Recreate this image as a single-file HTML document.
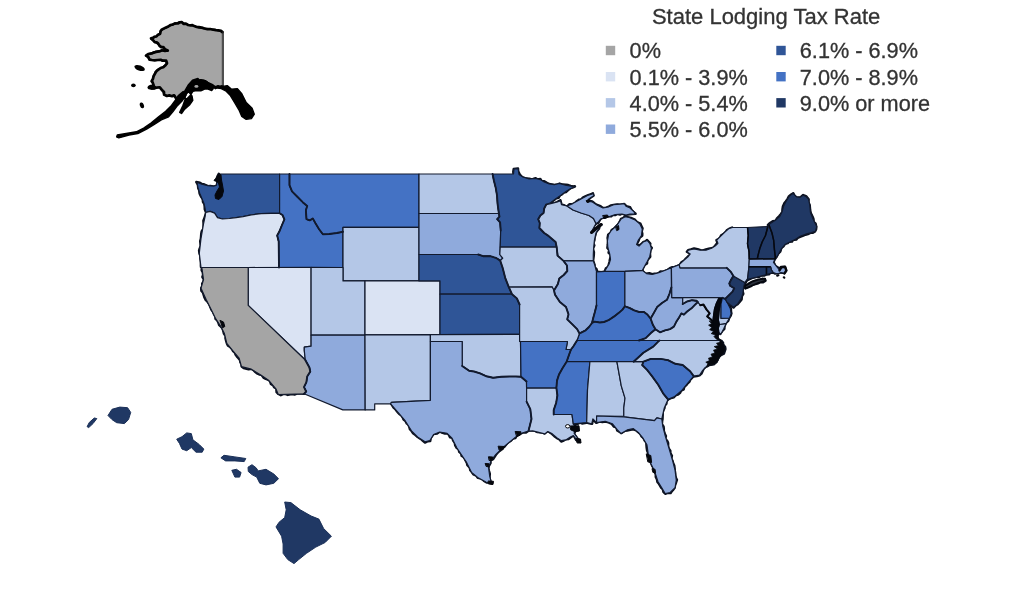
<!DOCTYPE html>
<html lang="en"><head><meta charset="utf-8"><title>State Lodging Tax Rate</title>
<style>
html,body{margin:0;padding:0;background:#fff;}
body{width:1024px;height:611px;overflow:hidden;position:relative;font-family:"Liberation Sans",Arial,sans-serif;}
svg{position:absolute;left:0;top:0;display:block;filter:blur(0.45px);}
.st{stroke:#121a2e;stroke-width:1.2;stroke-linejoin:round;}
.lg{font-family:"Liberation Sans",Arial,sans-serif;font-size:21.7px;fill:#333;stroke:#333;stroke-width:0.3;}
</style></head><body>
<svg width="1024" height="611" viewBox="0 0 1024 611">
<rect width="1024" height="611" fill="#fff"/>

<path fill="none" stroke="#0a0f1c" stroke-width="2.5" stroke-linejoin="round" stroke-linecap="round" d="M218.8,173.8 217.6,176.1 217.0,178.9 217.4,182.1 216.8,185.7 213.9,186.8 210.4,185.9 207.8,186.2 204.5,184.6 201.9,184.1 199.9,182.7 196.3,182.1 197.9,184.5 198.2,187.7 199.3,190.5 199.6,193.5 200.9,196.2 202.8,199.0 203.0,201.9 204.5,204.3 204.7,206.6 204.8,209.4 206.1,212.6 205.1,216.3 204.3,218.4 203.4,220.8 203.6,224.0 203.6,226.3 203.3,228.9 201.8,231.1 201.3,233.4 201.1,236.1 200.9,238.5 200.2,241.2 200.5,243.6 200.8,246.1 199.6,248.7 199.1,250.6 199.5,253.4 200.3,255.6 200.3,257.7 200.8,260.5 201.0,262.5 200.9,265.4 201.0,266.9 201.8,267.8 201.7,270.3 202.8,272.2 203.1,275.0 202.4,277.0 204.0,279.5 203.3,281.9 202.2,283.7 202.4,286.2 201.2,288.2 201.4,290.8 203.0,292.7 203.6,294.7 204.5,297.5 205.6,299.8 207.2,301.3 208.8,303.5 209.7,305.2 210.6,307.6 211.5,309.8 213.1,311.8 214.1,314.2 215.5,316.7 215.5,318.8 217.3,320.4 218.3,322.3 219.2,325.0 220.7,326.3 222.4,328.2 223.3,330.9 223.9,333.5 225.8,336.2 225.5,338.3 226.1,340.6 227.0,343.7 228.0,345.7 230.1,346.8 231.9,348.8 233.0,351.0 234.6,352.3 235.9,355.1 237.3,356.9 238.7,358.5 240.1,360.2 240.4,362.1 241.5,364.2 241.7,366.4 243.7,368.0 246.6,368.7 248.6,369.2 251.3,368.7 253.3,369.9 255.4,372.0 257.0,373.3 259.3,374.4 261.6,374.8 263.5,377.6 265.8,378.9 269.0,380.0 270.3,381.9 270.9,384.0 273.3,385.5 274.0,387.1 276.3,388.3 276.6,392.1 278.5,394.0 280.8,395.2 283.0,394.1 284.9,393.8 287.8,394.9 290.3,394.2 292.6,394.0 294.5,394.5 296.8,393.6 299.4,393.5 301.6,393.5 304.0,393.8M391.2,403.7 392.2,405.4 393.6,407.6 395.3,409.1 396.5,410.7 397.7,412.1 399.3,413.9 401.6,415.5 402.7,417.2 403.6,419.5 405.5,420.9 406.6,423.2 408.3,424.6 409.2,426.5 409.9,429.1 411.6,431.0 413.1,433.2 415.5,435.0 417.7,437.0 419.5,438.1 421.6,439.5 423.2,441.0 425.0,442.5 427.8,441.2 430.2,441.1 430.6,438.3 431.7,436.4 433.5,433.9 437.1,433.5 439.9,431.5 441.9,432.6 444.9,433.5 447.6,433.2 448.8,434.8 450.0,437.3 452.4,437.9 453.2,440.6 454.8,442.8 455.2,445.4 456.8,448.0 458.7,449.3 459.2,451.8 461.3,453.5 461.6,455.9 463.4,456.7 464.9,458.8 465.6,460.4 466.9,462.9 467.4,465.2 469.8,467.6 470.3,470.2 471.7,471.8 473.4,474.3 476.3,475.5 477.8,477.7 480.4,478.2 482.6,479.4 484.1,481.0 486.6,482.4 488.7,482.4 491.6,483.4 490.4,481.4 489.8,479.2 489.5,476.8 489.8,473.8 489.0,471.1 488.3,468.3 488.9,465.8 490.5,463.1 490.6,460.3 493.0,459.2 494.6,456.9 496.1,454.3 497.9,452.3 500.5,450.3 502.1,448.0 504.2,446.9 505.6,445.2 507.0,443.4 509.2,441.6 510.9,440.6 512.9,438.5 515.4,438.0 516.5,435.9 518.7,434.7 520.6,433.5 523.1,432.4 526.0,432.6 528.8,430.6 532.7,430.6 535.2,430.8 537.6,432.1 540.1,432.3 542.4,432.5 544.4,433.5 547.8,430.8 550.0,432.4 552.2,434.0 554.4,436.2 556.9,438.1 559.0,439.0 561.2,441.5 563.7,440.6 565.6,439.2 568.5,438.9 570.8,437.2 573.8,435.3 575.1,437.8 576.3,440.1 578.3,441.5 579.5,440.4 577.9,439.3 576.4,437.3 574.8,435.1 574.2,433.1 575.5,430.8 576.6,428.9 575.1,425.8 573.3,423.8 575.2,423.9 577.6,423.8 579.8,422.6 582.0,423.4 584.9,423.1 586.6,422.6 589.3,423.2 592.1,423.8 592.4,421.7 593.1,418.4 594.4,420.9 596.3,422.8 599.2,421.5 602.5,422.0 605.0,421.5 607.6,422.1 609.8,422.8 611.9,424.0 613.8,426.5 616.3,427.4 617.3,430.5 619.2,431.6 621.2,433.1 623.0,432.0 624.9,430.7 627.1,430.6 630.4,429.8 633.2,429.3 636.3,430.4 638.1,432.1 640.5,434.0 641.5,436.3 643.6,438.1 644.8,440.6 646.4,442.4 646.4,444.5 646.7,447.8 647.1,450.4 648.3,453.2 647.8,455.9 649.1,458.1 649.5,460.1 651.2,463.0 652.2,465.7 653.3,467.7 654.1,470.8 655.8,474.4 655.8,477.0 657.0,479.4 657.4,481.9 658.7,483.4 660.0,485.7 661.3,487.9 662.9,489.2 663.4,491.8 665.2,493.7 667.9,492.8 670.6,493.1 671.9,491.1 673.5,489.4 674.6,487.8 675.1,484.8 675.9,482.9 676.9,479.8 676.0,478.0 675.3,475.7 675.2,473.2 674.8,470.7 674.5,467.6 674.2,465.5 673.1,463.1 672.5,460.8 671.3,458.5 671.9,455.8 670.4,453.1 670.3,450.8 668.7,448.6 668.1,445.9 668.1,443.0 667.4,441.2 665.3,438.6 665.9,436.0 664.9,434.0 663.8,430.9 663.8,428.4 663.5,426.4 661.9,424.2 662.1,421.3 662.5,419.0 662.6,416.7 662.7,414.5 662.7,412.0 663.5,409.8 664.4,408.2 664.6,405.8 666.4,403.6 666.4,401.6 668.1,399.4 670.8,398.1 673.9,397.3 675.7,395.2 678.3,394.3 680.0,392.8 681.1,390.7 683.7,389.3 684.1,387.2 686.2,385.2 687.4,383.5 689.5,381.5 690.1,379.8 692.0,377.8 693.5,376.4 696.9,376.0 699.5,375.3 701.4,373.6 702.3,371.7 703.6,368.8 705.7,366.8 707.3,366.3 709.3,364.9 713.8,364.3 716.3,362.1 717.8,359.3 718.7,357.3 720.7,355.0 723.9,353.5 725.4,349.1 725.1,347.0 723.1,344.6 723.0,342.8 721.4,340.7 719.4,340.7 717.8,338.1 716.3,335.3 715.7,332.6 714.9,329.8 713.1,326.8 713.6,324.3 712.2,321.5 713.0,318.5 713.0,316.0 714.4,314.1 714.1,311.1 714.8,309.5 714.7,306.1 717.0,303.4 718.2,300.2 718.8,297.3 721.7,297.7 721.5,300.9 721.1,300.6 722.3,298.9 720.4,300.6 719.9,302.3 720.3,305.0 718.9,307.6 719.5,309.5 719.1,312.0 718.2,314.4 718.1,317.5 718.0,320.3 718.7,322.2 719.6,324.5 717.8,327.7 719.0,330.4 718.8,332.0 720.2,333.9 722.1,331.2 724.3,328.9 724.5,326.3 725.8,323.0 728.2,320.9 729.2,317.9 730.6,315.8 731.4,313.4 731.0,311.5 730.9,308.7 729.5,306.7 728.7,304.5 727.3,301.9 730.6,304.5 733.6,307.5 735.8,305.2 737.6,304.1 739.8,301.6 741.6,299.4 741.9,296.2 743.3,293.8 742.5,290.8 743.0,287.6 744.9,285.2 745.3,283.0 746.7,280.8 748.0,278.6 747.5,280.0 750.1,278.9 752.1,277.9 754.3,277.2 757.0,276.8 759.2,276.8 761.4,275.2 764.0,275.6 766.2,274.4 768.9,274.3 770.5,272.7 773.3,272.4 775.2,273.6 778.4,273.1 780.9,272.4 784.4,272.9 786.0,270.5 785.1,267.0 780.9,266.9 779.0,269.8 778.0,267.6 775.4,266.0 773.5,262.1 774.8,259.2 776.4,257.1 777.9,253.9 780.4,251.3 781.2,248.1 783.4,246.3 785.0,243.8 787.7,243.1 789.2,241.7 792.0,241.5 793.0,239.9 796.2,239.6 797.7,237.8 800.6,236.6 803.3,235.6 805.4,234.7 808.0,234.0 810.8,232.7 812.9,232.7 815.0,231.4 816.1,229.1 816.3,227.0 815.6,223.7 813.6,221.8 813.5,219.2 812.7,217.0 811.5,214.7 810.7,212.8 810.1,210.1 809.9,207.6 809.7,205.3 808.4,202.2 808.6,199.2 806.0,196.1 803.2,195.1 800.3,197.4 796.3,197.4 794.5,195.7 793.3,193.2 791.2,194.5 788.8,196.4 787.8,198.6 786.0,201.3 784.3,203.4 782.9,206.6 782.5,209.1 782.4,212.0 780.8,214.3 779.5,215.9 777.0,218.3 775.7,220.8 773.1,221.2 770.8,222.5 768.8,224.0 767.9,225.0M732.1,227.6 729.0,229.0 726.8,230.3 725.6,232.3 723.4,234.2 721.2,235.3 720.2,237.4 718.7,239.0 716.5,240.2 717.5,242.9 715.1,245.9 713.5,247.7 711.6,248.1 708.8,248.8 705.9,249.5 703.0,250.4 700.5,250.3 697.6,249.3 694.1,248.5 690.8,249.5 688.1,250.2 686.9,251.7 690.9,254.2 688.2,256.3 685.9,258.6 684.4,260.6 681.7,262.0 679.6,265.2 677.2,266.1 674.7,266.9 672.4,267.2 669.9,268.2 667.5,270.0 665.7,270.6 663.2,271.7 660.6,271.5 659.0,272.8 656.7,274.0 654.5,273.7 652.3,274.2 649.3,273.3 646.0,273.7 644.0,272.5 642.2,270.4 643.3,267.3 644.5,265.0 647.0,263.4 647.2,260.5 648.8,258.5 650.2,256.7 650.0,253.8 650.3,250.5 651.8,247.9 649.9,245.9 650.3,243.5 647.1,240.0 645.6,241.5 643.6,242.0 641.1,244.4 638.9,245.7 636.8,244.8 637.5,242.5 638.6,240.6 639.6,237.7 642.2,235.8 642.3,233.7 641.7,231.3 642.5,228.4 641.5,226.4 640.4,223.6 637.0,222.1 634.9,219.7 631.9,218.3 628.9,217.5 624.7,216.6 623.0,218.1 621.0,218.9 619.7,221.9 618.0,224.7 616.8,225.9 614.6,228.2 611.7,230.1 610.7,232.6 608.2,234.8 607.6,238.0 608.1,241.0 607.8,244.5 607.4,247.9 609.2,249.9 608.6,252.7 610.4,254.2 610.7,256.5 609.9,259.5 609.5,262.0 608.9,264.1 608.2,266.7 605.8,268.6 604.6,271.6 602.1,272.2 599.0,272.0 596.3,272.0 597.2,271.3 596.4,269.0 594.6,267.3 594.5,264.6 593.1,260.7 593.4,258.2 593.8,255.4 593.9,252.1 592.8,248.7 594.3,245.5 593.4,243.1 594.4,240.2 594.5,237.8 595.3,235.2 595.9,232.5 597.0,230.8 599.0,228.7 599.6,225.9 601.6,224.6 599.3,225.3 597.9,226.6 596.4,228.3 594.4,229.0 592.7,230.4 590.6,232.4 592.8,230.5 593.5,227.6 594.4,225.6 596.2,223.5 598.5,222.5 600.4,218.9 602.7,217.7 604.9,217.7 608.6,216.2 611.2,216.3 612.9,214.7 615.1,215.1 617.3,213.9 620.0,214.6 621.7,213.6 625.8,214.7 629.7,214.2 632.3,213.9 635.6,213.8 633.4,211.9 631.7,210.4 630.1,207.2 626.3,206.2 624.3,204.1 620.5,204.7 617.3,204.5 613.6,204.9 611.1,205.5 608.8,206.6 605.9,207.9 602.8,208.0 600.5,206.1 597.2,205.0 595.0,203.8 592.2,201.5 589.9,201.1 588.0,201.3 589.2,198.9 591.5,196.8 593.5,195.7 592.9,193.3 590.5,194.3 587.6,195.5 585.4,196.4 582.9,197.7 581.3,199.4 578.9,199.7 576.6,201.4 575.1,203.1 572.7,204.2 569.6,204.2 566.8,206.6 564.1,205.3 561.5,204.6 560.4,200.3 557.1,202.2 555.0,203.0 552.5,203.3 550.0,204.3 547.8,204.6 547.6,203.6 550.0,202.2 552.4,201.2 554.0,200.0 556.1,198.2 558.5,197.8 559.9,195.4 561.6,194.5 563.6,192.5 565.9,192.0 568.1,190.0 570.8,188.0 572.9,187.4 574.9,186.3 572.9,186.5 570.6,186.0 568.2,185.1 565.9,184.7 562.6,184.6 559.6,183.6 556.8,184.8 554.4,185.0 551.7,184.5 549.1,184.0 546.9,182.8 544.3,181.3 541.7,181.2 540.3,179.0 537.5,179.5 535.7,178.2 532.0,179.4 529.3,178.7 526.0,178.6 522.4,177.2 521.0,176.1 519.6,174.2 518.1,171.4 518.0,168.6 513.7,169.1 513.3,171.6 513.5,174.0M758.0,280.3 754.8,280.8 751.8,282.0 749.8,283.0 747.8,284.8 744.9,285.7 745.3,288.4 748.0,287.3 750.8,286.2 752.9,284.4 755.5,284.0 758.3,283.2 760.3,282.1 762.8,282.3 765.5,280.7 765.0,279.3 762.3,278.8 760.0,279.7 758.0,279.8"/>
<g class="st">
<path id="WA" fill="#2F5597" d="M218.5,174.0 217.0,179.0 216.5,185.1 213.6,186.1 207.7,185.6 201.8,184.2 196.9,182.2 197.9,187.6 199.8,193.5 202.3,199.4 204.2,204.3 205.2,209.2 205.7,212.5 210.1,211.4 214.6,213.1 217.5,217.6 222.4,219.0 229.3,218.5 236.2,217.6 243.0,216.6 251.3,214.8 261.2,213.7 271.0,213.3 279.6,213.3 279.6,174.0Z"/>
<path id="OR" fill="#DAE3F3" d="M205.7,212.5 210.1,211.4 214.6,213.1 217.5,217.6 222.4,219.0 229.3,218.5 236.2,217.6 243.0,216.6 251.3,214.8 261.2,213.7 271.0,213.3 279.6,213.3 279.6,213.3 282.5,215.0 284.4,219.4 281.8,225.5 279.6,231.0 277.2,235.5 278.7,241.5 279.0,267.5 201.0,267.5 199.3,253.3 201.0,238.5 203.5,223.8 205.2,216.0Z"/>
<path id="ID" fill="#4472C4" d="M279.6,174.0 289.5,174.0 289.5,185.2 292.0,191.4 297.1,196.5 302.7,202.2 307.2,205.9 305.9,210.3 306.5,219.2 309.7,220.4 312.8,218.5 315.3,222.9 319.1,229.2 322.9,234.3 329.2,234.0 336.8,233.0 343.0,231.8 343.0,267.5 279.0,267.5 278.7,241.5 277.2,235.5 279.6,231.0 281.8,225.5 284.4,219.4 282.5,215.0 279.6,213.3Z"/>
<path id="MT" fill="#4472C4" d="M289.5,174.0 289.5,185.2 292.0,191.4 297.1,196.5 302.7,202.2 307.2,205.9 305.9,210.3 306.5,219.2 309.7,220.4 312.8,218.5 315.3,222.9 319.1,229.2 322.9,234.3 329.2,234.0 336.8,233.0 343.0,231.8 343.0,227.3 419.0,227.3 419.0,174.0Z"/>
<path id="WY" fill="#B4C7E7" d="M343.0,227.3 419.0,227.3 419.0,280.9 343.0,280.9Z"/>
<path id="NV" fill="#DAE3F3" d="M248.2,267.5 311.1,267.3 311.1,346.2 304.3,347.2 304.3,350.5 305.3,360.0 248.2,305.4Z"/>
<path id="UT" fill="#B4C7E7" d="M311.1,267.3 343.0,267.5 343.0,280.9 365.0,280.9 365.0,335.2 311.1,335.2Z"/>
<path id="CO" fill="#DAE3F3" d="M365.0,280.9 440.0,280.9 440.0,334.6 365.0,334.9Z"/>
<path id="AZ" fill="#8FAADC" d="M311.1,335.2 365.0,335.2 365.2,409.9 342.8,409.9 304.0,393.8 306.2,391.5 304.0,387.1 306.4,382.2 307.2,376.5 310.3,371.6 309.4,367.5 305.3,360.0 304.3,350.5 304.3,347.2 311.1,346.2Z"/>
<path id="NM" fill="#B4C7E7" d="M365.0,334.9 430.4,334.6 430.4,400.3 391.5,402.3 390.6,403.8 374.7,403.8 374.7,409.9 365.2,409.9Z"/>
<path id="CA" fill="#A5A5A5" d="M248.2,267.5 248.2,305.4 305.3,360.0 309.4,367.5 310.3,371.6 307.2,376.5 306.4,382.2 304.0,387.1 306.2,391.5 304.0,393.8 278.3,394.5 275.9,388.8 268.5,380.2 261.2,375.3 251.3,369.2 241.5,366.7 239.1,358.2 232.9,350.8 226.8,343.4 224.4,333.6 220.7,326.3 215.8,318.9 210.9,309.1 206.0,299.3 201.0,288.2 203.5,279.6 201.8,267.5Z"/>
<path id="ND" fill="#B4C7E7" d="M419.0,174.0 492.6,174.0 493.8,180.2 495.7,187.7 497.0,195.3 497.6,204.1 498.9,213.5 419.0,213.5Z"/>
<path id="SD" fill="#8FAADC" d="M419.0,213.5 498.9,213.5 499.5,216.7 497.2,219.2 500.1,222.3 500.7,230.5 500.2,247.1 499.8,254.5 502.7,258.2 500.2,260.6 496.6,258.2 490.4,256.2 483.1,256.2 478.2,254.5 419.0,254.5Z"/>
<path id="NE" fill="#2F5597" d="M419.0,254.5 478.2,254.5 483.1,256.2 490.4,256.2 496.6,258.2 500.2,260.6 502.7,268.0 505.2,277.8 508.8,287.1 512.0,294.2 440.0,294.2 440.0,280.9 419.0,280.9Z"/>
<path id="KS" fill="#2F5597" d="M440.0,294.2 512.0,294.2 516.9,298.4 519.6,304.5 519.6,334.4 440.0,334.6Z"/>
<path id="OK" fill="#B4C7E7" d="M430.4,334.6 519.6,334.4 520.5,341.5 521.0,376.8 516.0,376.5 509.5,376.5 501.3,376.8 493.1,377.8 486.5,376.3 480.0,373.4 474.0,371.5 469.1,370.8 462.2,365.9 462.2,341.5 430.4,341.5Z"/>
<path id="TX" fill="#8FAADC" d="M430.4,341.5 462.2,341.5 462.2,365.9 469.1,370.8 474.0,371.5 480.0,373.4 486.5,376.3 493.1,377.8 501.3,376.8 509.5,376.5 516.0,376.5 521.0,376.8 526.5,381.5 526.6,388.2 526.6,401.7 530.3,409.1 531.5,418.9 528.5,431.0 528.5,431.0 522.9,432.8 516.8,436.1 509.4,442.2 502.1,448.3 495.9,454.5 491.0,460.6 488.6,468.0 489.8,476.6 491.5,483.2 491.5,483.2 486.3,482.3 477.7,477.4 471.6,472.5 466.7,462.7 461.8,455.3 456.9,448.0 452.0,438.2 447.1,433.3 439.7,432.0 433.6,434.5 429.9,440.6 425.0,441.8 417.6,436.9 411.5,430.8 405.3,421.0 398.0,412.4 390.6,403.8 391.5,402.3 430.4,400.3Z"/>
<path id="MN" fill="#2F5597" d="M492.6,174.0 513.5,174.0 514.0,168.8 518.2,168.8 519.0,174.5 522.8,177.0 529.1,178.9 535.4,178.4 540.4,179.6 544.2,182.0 549.2,183.9 554.3,184.6 559.3,183.5 565.6,185.2 575.1,186.8 570.6,188.5 565.6,191.7 560.6,195.4 555.5,199.1 550.5,202.8 546.2,204.6 544.2,208.5 543.6,212.9 540.4,215.4 538.2,219.2 539.8,223.0 539.4,228.0 544.2,233.0 548.0,235.6 555.6,242.0 556.7,247.1 500.2,247.1 500.7,230.5 500.1,222.3 497.2,219.2 499.5,216.7 498.9,213.5 497.6,204.1 497.0,195.3 495.7,187.7 493.8,180.2 492.6,174.0Z"/>
<path id="IA" fill="#B4C7E7" d="M500.2,247.1 556.7,247.1 557.5,255.6 563.5,260.9 567.0,265.5 567.3,271.0 563.7,275.0 559.3,278.5 557.9,284.0 554.0,290.5 552.0,286.8 508.8,287.1 508.8,287.1 505.2,277.8 502.7,268.0 500.2,260.6 500.2,260.6 502.7,258.2 499.8,254.5Z"/>
<path id="WI" fill="#B4C7E7" d="M546.2,204.6 551.8,203.3 557.4,202.0 560.6,200.8 561.5,204.7 567.0,206.0 573.0,210.0 581.0,213.0 589.0,215.5 593.5,218.5 596.0,223.5 591.0,232.5 601.4,224.0 596.0,233.0 594.4,240.4 593.6,248.6 593.3,255.1 593.3,260.9 563.5,260.9 557.9,255.7 556.7,247.1 555.6,242.0 548.0,235.6 544.2,233.0 539.4,228.0 539.8,223.0 538.2,219.2 540.4,215.4 543.6,212.9 544.2,208.5 546.2,204.6Z"/>
<path id="IL" fill="#8FAADC" d="M563.5,260.9 593.3,260.9 594.7,264.8 596.5,271.5 596.5,305.5 594.9,312.0 593.5,317.0 592.0,323.0 589.0,327.0 585.6,330.3 580.7,332.8 579.5,333.5 577.1,329.1 572.1,324.2 567.2,319.3 568.5,314.4 566.0,307.0 559.9,302.1 555.0,294.7 554.0,290.5 554.0,290.5 557.9,284.0 559.3,278.5 563.7,275.0 567.3,271.0 567.0,265.5 563.5,260.9Z"/>
<path id="IN" fill="#4472C4" d="M596.5,271.9 604.5,271.3 624.9,271.1 624.9,306.3 622.5,309.6 619.2,312.6 614.2,316.4 608.5,320.2 604.0,322.0 599.8,322.5 594.6,321.6 592.0,323.0 593.5,317.0 594.9,312.0 596.5,305.5Z"/>
<path id="OH" fill="#8FAADC" d="M624.9,271.1 642.4,270.3 646.5,273.6 652.2,274.4 658.8,272.7 665.3,270.3 671.4,267.8 671.4,287.5 669.4,294.0 667.0,299.8 662.0,303.0 657.1,307.1 653.9,312.9 650.6,318.6 650.6,318.6 647.3,314.5 644.0,312.0 639.1,312.0 634.2,310.4 629.3,307.9 624.9,306.3Z"/>
<path id="MI" fill="#8FAADC" d="M604.5,271.3 624.9,271.1 642.4,270.3 646.5,262.9 649.8,256.4 651.4,248.2 650.0,243.7 647.2,240.4 643.1,242.0 639.0,246.1 636.6,244.5 638.2,240.4 641.5,235.5 642.3,228.9 639.9,224.0 635.0,219.9 629.2,217.5 625.1,216.7 621.0,219.1 617.8,224.0 614.5,227.5 611.4,230.2 608.5,234.8 607.4,241.0 607.8,247.5 609.8,254.5 610.5,259.4 609.0,264.3 606.0,269.0 604.5,271.3ZM567.0,206.0 572.7,203.6 580.1,199.5 587.5,195.4 593.2,193.7 594.0,195.4 589.1,198.7 587.5,201.1 592.4,201.9 597.3,205.2 603.0,208.0 608.8,206.8 613.7,204.7 620.2,204.1 624.3,203.6 626.0,206.3 630.0,208.0 634.1,211.7 635.0,214.2 630.0,214.2 626.0,215.0 621.9,214.2 615.3,214.5 608.8,216.7 604.7,217.5 600.6,219.1 598.1,222.4 596.0,223.5 593.5,218.5 589.0,215.5 581.0,213.0 573.0,210.0Z"/>
<path id="KY" fill="#4472C4" d="M579.5,333.5 580.7,332.8 585.6,330.3 589.0,327.0 592.0,323.0 594.6,321.6 599.8,322.5 604.0,322.0 608.5,320.2 614.2,316.4 619.2,312.6 622.5,309.6 624.9,306.3 629.3,307.9 634.2,310.4 639.1,312.0 644.0,312.0 647.3,314.5 650.6,318.6 653.0,325.1 655.5,329.2 650.6,333.3 645.7,338.2 639.0,340.5 577.0,340.5Z"/>
<path id="TN" fill="#4472C4" d="M577.0,340.5 659.4,340.5 658.2,341.7 653.3,346.6 643.4,352.8 633.6,361.7 566.6,361.7 569.3,354.0 571.0,349.5 573.4,346.3 577.0,340.5Z"/>
<path id="MO" fill="#B4C7E7" d="M508.8,287.1 552.0,286.8 554.0,290.5 555.0,294.7 559.9,302.1 566.0,307.0 568.5,314.4 567.2,319.3 572.1,324.2 577.1,329.1 579.5,333.5 577.0,340.5 573.4,346.3 571.0,349.5 566.0,349.5 567.5,341.5 519.6,341.5 519.6,304.5 516.9,298.4 512.0,294.2Z"/>
<path id="AR" fill="#4472C4" d="M520.5,341.5 567.5,341.5 566.0,349.5 571.0,349.5 569.3,354.0 566.6,361.7 562.5,368.3 559.0,374.5 557.0,380.6 556.4,388.0 526.6,388.2 526.5,381.5 521.0,376.8Z"/>
<path id="LA" fill="#B4C7E7" d="M526.6,388.2 556.4,388.0 557.4,395.3 556.2,402.7 553.7,410.1 553.7,414.5 572.0,414.5 573.3,423.8 576.4,428.6 574.1,433.1 579.4,440.7 578.0,441.6 573.4,435.6 570.4,437.0 565.8,439.9 561.3,440.7 556.8,437.7 552.3,433.9 547.8,431.6 544.8,433.9 538.7,432.4 532.7,430.9 528.5,431.0 531.5,418.9 530.3,409.1 526.6,401.7Z"/>
<path id="MS" fill="#4472C4" d="M566.6,361.7 589.9,361.7 587.5,390.0 586.7,422.6 573.3,423.8 572.0,414.5 553.7,414.5 553.7,410.1 556.2,402.7 557.4,395.3 556.4,388.0 557.0,380.6 559.0,374.5 562.5,368.3 566.6,361.7Z"/>
<path id="AL" fill="#B4C7E7" d="M589.9,361.7 616.9,361.7 621.3,385.9 625.0,398.2 623.8,408.0 623.8,416.3 596.6,416.0 596.6,422.6 592.9,418.9 591.7,423.8 586.7,422.6 587.5,390.0Z"/>
<path id="GA" fill="#B4C7E7" d="M616.9,361.7 643.4,361.7 642.2,365.0 647.1,369.9 652.0,376.1 658.2,384.7 663.1,393.3 668.0,399.4 664.3,408.0 661.8,419.0 656.9,417.8 654.5,420.7 623.8,416.8 623.8,408.0 625.0,398.2 621.3,385.9 616.9,361.7Z"/>
<path id="FL" fill="#8FAADC" d="M596.6,416.0 623.8,416.8 654.5,420.7 656.9,417.8 661.8,419.0 662.8,426.3 665.3,436.1 669.0,448.3 672.6,460.6 675.1,470.4 676.3,480.2 675.1,487.6 670.2,492.5 665.3,493.7 661.6,487.6 657.9,481.5 655.5,474.1 653.0,468.0 649.3,460.6 648.1,453.3 646.9,444.7 643.2,438.5 638.3,432.4 633.4,428.7 627.2,429.9 621.1,433.6 617.4,429.9 612.5,423.8 605.2,421.3 596.6,422.6Z"/>
<path id="SC" fill="#4472C4" d="M643.4,361.7 650.8,358.9 660.6,358.9 668.0,360.1 675.3,363.8 682.7,365.0 690.1,371.2 693.7,376.1 687.6,383.4 681.5,390.8 674.1,396.9 668.0,399.4 663.1,393.3 658.2,384.7 652.0,376.1 647.1,369.9 642.2,365.0 643.4,361.7Z"/>
<path id="NC" fill="#B4C7E7" d="M633.6,361.7 643.4,352.8 653.3,346.6 658.2,341.7 659.4,340.5 719.5,340.5 721.3,340.9 723.7,344.6 725.2,349.6 723.2,353.5 719.3,357.4 716.8,362.3 713.4,364.3 709.5,365.3 705.5,367.2 702.1,371.2 699.6,375.1 693.7,376.1 693.7,376.1 690.1,371.2 682.7,365.0 675.3,363.8 668.0,360.1 660.6,358.9 650.8,358.9 643.4,361.7Z"/>
<path id="VA" fill="#B4C7E7" d="M639.0,340.5 645.7,338.2 650.6,333.3 655.5,329.2 660.0,332.3 665.0,330.4 670.1,329.1 673.9,326.6 676.4,321.6 678.9,317.8 681.4,313.4 683.9,314.6 687.1,311.5 691.5,308.3 694.6,305.2 697.8,302.0 700.3,305.2 703.5,304.6 706.6,309.6 709.7,313.4 707.2,316.5 710.4,319.0 712.9,321.6 713.3,327.0 715.0,332.5 718.0,337.5 719.5,340.5ZM719.3,324.5 726.3,323.3 723.6,329.0 720.8,334.3 718.8,332.5 718.3,328.0Z"/>
<path id="WV" fill="#8FAADC" d="M671.4,287.5 671.8,297.6 682.7,297.6 682.7,304.0 687.0,301.5 692.0,300.2 696.5,300.8 697.8,302.0 694.6,305.2 691.5,308.3 687.1,311.5 683.9,314.6 681.4,313.4 678.9,317.8 676.4,321.6 673.9,326.6 670.1,329.1 665.0,330.4 660.0,332.3 655.5,329.2 653.0,325.1 650.6,318.6 653.9,312.9 657.1,307.1 662.0,303.0 667.0,299.8 669.4,294.0 671.4,287.5Z"/>
<path id="PA" fill="#8FAADC" d="M671.4,267.8 679.2,264.6 680.0,267.8 726.8,267.8 730.9,271.9 733.4,276.0 730.9,280.1 729.3,283.4 730.1,285.8 734.2,288.3 732.6,291.6 728.5,295.7 725.2,298.9 722.3,297.8 719.0,297.6 671.8,297.6Z"/>
<path id="MD" fill="#B4C7E7" d="M682.7,297.6 719.0,297.6 716.5,303.0 714.5,309.0 713.5,316.0 712.9,321.6 710.4,319.0 707.2,316.5 709.7,313.4 706.6,309.6 703.5,304.6 700.3,305.2 697.8,302.0 697.8,302.0 696.5,300.8 692.0,300.2 687.0,301.5 682.7,304.0ZM721.6,298.5 719.9,305.0 719.0,312.0 718.4,320.0 719.3,324.5 726.3,323.3 729.6,318.0 721.0,318.3 721.0,304.0 721.6,298.5Z"/>
<path id="DE" fill="#4472C4" d="M722.3,298.0 725.2,298.9 727.5,303.0 730.4,308.8 731.1,313.7 729.6,318.0 721.0,318.3 721.0,304.0Z"/>
<path id="NJ" fill="#203864" d="M733.4,276.0 744.8,282.6 743.6,287.5 742.8,294.0 741.0,298.9 737.7,303.9 733.6,307.3 730.1,304.7 727.0,302.2 725.2,298.9 728.5,295.7 732.6,291.6 734.2,288.3 730.1,285.8 729.3,283.4 730.9,280.1Z"/>
<path id="NY" fill="#B4C7E7" d="M679.2,264.6 683.9,260.3 688.3,256.5 690.2,254.0 687.1,252.1 688.3,250.2 694.0,249.0 700.3,250.2 706.0,250.2 711.6,248.3 715.4,245.8 717.9,243.3 716.7,240.2 720.5,236.4 724.9,232.0 728.6,228.8 732.4,227.5 747.5,227.5 748.3,235.5 747.5,243.7 749.1,251.9 749.3,259.0 748.9,267.0 747.6,278.5 744.8,282.6 733.4,276.0 730.9,271.9 726.8,267.8 680.0,267.8ZM745.0,286.0 752.0,281.8 758.0,279.8 765.0,278.6 765.3,280.8 758.0,283.0 750.5,286.3 745.6,288.3Z"/>
<path id="VT" fill="#203864" d="M747.5,227.5 748.3,235.5 747.5,243.7 749.1,251.9 749.3,259.0 757.3,259.0 758.1,255.1 759.8,248.6 762.2,242.0 765.5,235.5 767.9,226.5Z"/>
<path id="NH" fill="#203864" d="M767.9,226.5 765.5,235.5 762.2,242.0 759.8,248.6 758.1,255.1 757.3,259.0 775.1,259.0 775.3,256.8 774.5,250.2 773.7,240.4 772.0,233.0 768.8,224.5 767.9,225.0Z"/>
<path id="ME" fill="#203864" d="M768.8,224.5 770.3,223.5 775.3,220.3 779.7,216.5 782.2,211.5 783.5,206.4 786.0,201.4 789.2,196.4 793.0,193.4 796.7,197.0 800.0,197.3 803.0,195.2 806.0,196.5 808.5,199.0 809.8,205.2 810.5,212.7 813.0,219.0 816.7,226.6 815.4,231.4 810.6,232.9 805.5,234.2 800.5,236.0 795.5,239.2 790.4,241.7 785.4,244.2 781.6,248.6 778.5,254.3 775.1,259.0 775.3,256.8 774.5,250.2 773.7,240.4 772.0,233.0 768.8,224.5Z"/>
<path id="MA" fill="#8FAADC" d="M749.3,259.0 775.1,258.6 773.5,262.4 776.2,265.8 779.0,269.5 781.5,267.0 785.0,266.8 786.3,270.5 784.5,273.3 781.0,272.6 778.5,273.6 775.5,273.4 773.2,272.5 771.5,270.0 770.6,266.8 748.9,266.8Z"/>
<path id="CT" fill="#203864" d="M748.9,266.8 766.5,266.8 766.5,274.6 757.0,277.2 747.6,279.3Z"/>
<path id="RI" fill="#203864" d="M766.5,266.8 770.6,266.8 771.5,270.0 773.2,272.5 766.5,274.6Z"/>
</g>
<path fill="none" stroke="#121a2e" stroke-width="1.9" stroke-linejoin="round" stroke-linecap="round" d="M556.7,247.1 557.5,255.6 563.5,260.9 567.0,265.5 567.3,271.0 563.7,275.0 559.3,278.5 557.9,284.0 554.0,290.5M554.0,290.5 555.0,294.7 559.9,302.1 566.0,307.0 568.5,314.4 567.2,319.3 572.1,324.2 577.1,329.1 579.5,333.5M577.0,340.5 573.4,346.3 571.0,349.5 569.3,354.0 566.6,361.7 562.5,368.3 559.0,374.5 557.0,380.6 556.4,388.0 557.4,395.3 556.2,402.7 553.7,410.1 553.7,414.5M592.0,323.0 589.0,327.0 585.6,330.3 580.7,332.8 579.5,333.5M592.0,323.0 594.6,321.6 599.8,322.5 604.0,322.0 608.5,320.2 614.2,316.4 619.2,312.6 622.5,309.6 624.9,306.3M624.9,306.3 629.3,307.9 634.2,310.4 639.1,312.0 644.0,312.0 647.3,314.5 650.6,318.6M596.5,305.5 594.9,312.0 593.5,317.0 592.0,323.0M462.2,365.9 469.1,370.8 474.0,371.5 480.0,373.4 486.5,376.3 493.1,377.8 501.3,376.8 509.5,376.5 516.0,376.5 521.0,376.8 526.5,381.5M289.5,174.0 289.5,185.2 292.0,191.4 297.1,196.5 302.7,202.2 307.2,205.9 305.9,210.3 306.5,219.2 309.7,220.4 312.8,218.5 315.3,222.9 319.1,229.2 322.9,234.3 329.2,234.0 336.8,233.0 343.0,231.8M279.0,267.5 278.7,241.5 277.2,235.5 279.6,231.0 281.8,225.5 284.4,219.4 282.5,215.0 279.6,213.3M526.6,401.7 530.3,409.1 531.5,418.9 528.5,431.0M305.3,360.0 309.4,367.5 310.3,371.6 307.2,376.5 306.4,382.2 304.0,387.1 306.2,391.5 304.0,393.8M671.4,287.5 669.4,294.0 667.0,299.8 662.0,303.0 657.1,307.1 653.9,312.9 650.6,318.6M650.6,318.6 653.0,325.1 655.5,329.2M655.5,329.2 650.6,333.3 645.7,338.2 639.0,340.5M655.5,329.2 660.0,332.3 665.0,330.4 670.1,329.1 673.9,326.6 676.4,321.6 678.9,317.8 681.4,313.4 683.9,314.6 687.1,311.5 691.5,308.3 694.6,305.2 697.8,302.0M659.4,340.5 658.2,341.7 653.3,346.6 643.4,352.8 633.6,361.7M643.4,361.7 642.2,365.0 647.1,369.9 652.0,376.1 658.2,384.7 663.1,393.3 668.0,399.4M643.4,361.7 650.8,358.9 660.6,358.9 668.0,360.1 675.3,363.8 682.7,365.0 690.1,371.2 693.7,376.1M726.8,267.8 730.9,271.9 733.4,276.0 730.9,280.1 729.3,283.4 730.1,285.8 734.2,288.3 732.6,291.6 728.5,295.7 725.2,298.9 722.3,297.8M546.2,204.6 544.2,208.5 543.6,212.9 540.4,215.4 538.2,219.2 539.8,223.0 539.4,228.0 544.2,233.0 548.0,235.6 555.6,242.0 556.7,247.1M500.2,260.6 502.7,268.0 505.2,277.8 508.8,287.1 512.0,294.2M478.2,254.5 483.1,256.2 490.4,256.2 496.6,258.2 500.2,260.6M682.7,304.0 687.0,301.5 692.0,300.2 696.5,300.8 697.8,302.0M512.0,294.2 516.9,298.4 519.6,304.5M492.6,174.0 493.8,180.2 495.7,187.7 497.0,195.3 497.6,204.1 498.9,213.5M498.9,213.5 499.5,216.7 497.2,219.2 500.1,222.3 500.7,230.5"/>
<path fill="none" stroke="#050810" stroke-width="1.5" stroke-linejoin="round" d="M767.9,226.5 765.5,235.5 762.2,242.0 759.8,248.6 758.1,255.1 757.3,259.0M768.8,224.5 772.0,233.0 773.7,240.4 774.5,250.2 775.3,256.8 775.1,259.0M747.5,227.5 748.3,235.5 747.5,243.7 749.1,251.9 749.3,259.0M748.9,266.8 770.6,266.8M749.3,259.0 775.1,258.8M766.5,266.8 766.5,274.6"/>
<g fill="#05070d" stroke="#05070d" stroke-linejoin="round" stroke-linecap="round">
<path stroke-width="1" d="M218.5,174.5 215.5,178.5 214,180.5 216.5,181.5 218.5,183 219.5,187 217,191 215,195 215.5,198.5 219,199.5 222,196.5 223.5,191 222.5,185 221.5,180 221,175Z"/>
<path stroke-width="1" d="M220.3,320.5 223.5,322 224.8,326.5 222.5,327.8 221.3,324Z"/>
<path stroke-width="1.2" d="M719.0,298.5 716.5,303.0 714.5,309.0 713.5,316.0 712.9,321.6 713.3,327.0 715.0,332.5 718.0,337.5 718.8,332.5 718.3,328.0 719.3,324.5 718.4,320.0 719.0,312.0 719.9,305.0 721.6,298.5Z"/>
<path fill="none" stroke-width="2" d="M700.3,305.2 703.5,304.6 706.6,309.6 709.7,313.4 707.2,316.5 710.4,319.0 712.9,321.6"/>
<path fill="none" stroke-width="3" d="M591.5,232.5 601,224.5"/>
<path stroke-width="1" d="M603,215.5 607.5,215 608.5,217 604.5,218.5Z M616,227 618.5,225.5 619,229.5 617,230.5Z M586.5,200.5 589,199.5 589.5,202 587.5,202.5Z"/>
<path fill="none" stroke-width="2.2" d="M783.8,277.3 784.3,277.6 M777.2,275.6 778.4,275.3"/>
<path stroke-width="0.8" d="M720.5,339.5 721.3,340.9 723.7,344.6 725.2,349.6 723.2,353.5 719.3,357.4 716.8,362.3 713.4,364.3 709.5,365.3 706.5,366.6 708,363.6 705.8,362.2 709.5,360.6 708.5,358.2 712.5,357 711,354.2 715,353 713.5,350.2 717.5,349 714.2,346.6 718.5,345.6 716.5,343.2 719.5,342.6Z"/>
<path stroke-width="0.8" d="M712.9,321.6 713.3,327 715,332.5 718,337.5 719.5,340.1 716.5,339.2 714,336.6 715.6,335 711.2,333.6 713.6,331.6 709.6,329.6 712,327.6 708.6,325.2 711.6,323.6 709.4,321.2Z"/>
<path fill="none" stroke-width="2.4" d="M779.5,270.5 781.5,267.2 785,266.8 786.4,270.5 784.5,273.4"/>
<path fill="#2a303c" stroke-width="1.6" d="M745,286 752,281.8 758,279.8 765,278.6 765.3,280.8 758,283 750.5,286.3 745.6,288.3Z"/>
<path stroke-width="1" d="M515.5,431.5 521,431.8 520.5,435 517,436.5Z M498.5,446.2 504.5,446.5 503,449.8 499.5,450Z M488.8,456.8 492.8,457 492,460.5 489.5,460.5Z M485.5,463.5 489,463.8 488.8,467 486.5,466.5Z M488.5,481 493.5,481.3 493,484.5 488.8,484Z M570.5,426 579,425.8 579.5,431 575,431.8 571,430Z M576.5,438.5 580.5,439 581,443 577.5,443Z M646.6,454 650.8,455.5 651.6,462.5 648.2,462Z M652.4,468.7 655,469.2 655.6,472.8 653.2,472.4Z"/>
</g>
<ellipse cx="567.7" cy="426.3" rx="2.2" ry="1.7" fill="#fff" stroke="#05070d" stroke-width="1"/>
<path fill="#A5A5A5" stroke="#000" stroke-width="1.6" stroke-linejoin="round" d="M222.5,32.1 216.3,29.9 210.4,29.1 204.5,28.4 198.6,27.7 192.7,25.5 188.3,24.7 183.9,23.3 179.5,21.8 175.1,24.0 170.7,25.5 166.2,27.7 161.8,29.9 159.6,33.6 156.7,36.5 150.8,38.7 154.5,41.7 159.6,45.3 164.8,49.0 167.7,51.2 161.8,50.5 155.9,51.2 150.0,53.4 146.4,55.7 149.3,59.3 154.5,60.1 160.3,60.1 165.5,60.8 167.0,63.8 163.3,66.7 158.9,68.9 155.2,71.9 153.7,76.3 152.2,80.7 153.7,85.1 149.3,87.3 154.5,88.1 159.6,87.3 162.6,90.3 164.0,94.7 169.2,96.2 174.3,95.4 176.5,98.4 180.0,100.0 183.2,96.5 186.2,91.0 189.8,86.0 193.5,82.5 197.9,80.8 200.8,80.3 205.2,82.0 209.6,84.2 212.5,86.0 215.5,87.2 222.5,86.4Z"/>
<path fill="none" stroke="#000" stroke-width="2.7" stroke-linejoin="round" stroke-linecap="round" d="M222.5,32.1 221.0,30.9 218.4,30.3 216.0,30.1 213.3,29.7 210.2,29.0 207.4,29.2 204.4,28.5 201.8,27.6 198.9,27.2 196.8,27.0 194.3,26.1 192.5,25.2 190.6,25.4 188.1,25.0 185.9,23.7 183.5,23.9 181.9,22.0 180.0,22.4 177.9,23.5 174.8,23.4 172.6,24.6 170.3,25.0 168.3,26.5 166.0,27.5 164.1,28.4 161.6,29.7 160.5,31.3 160.2,33.7 157.6,35.0 156.7,36.2 154.3,36.8 152.9,37.8 151.0,38.4 152.8,39.9 154.7,42.1 156.7,42.3 158.1,43.3 159.4,45.7 160.9,47.1 163.4,47.1 165.0,49.3 167.8,50.4 165.0,51.0 162.0,50.2 159.3,51.4 156.0,52.0 153.8,52.6 151.9,53.4 150.6,53.7 148.2,54.1 146.0,55.7 148.5,57.2 149.5,59.7 151.5,60.0 154.7,60.3 157.7,60.0 160.7,59.8 162.5,60.7 166.2,60.6 167.0,63.2 165.2,65.6 163.3,67.3 161.4,67.7 159.0,69.1 157.0,70.6 155.7,72.3 154.6,74.3 153.5,76.2 153.0,78.8 151.6,81.1 152.8,82.8 153.7,85.9 151.1,86.0 149.4,87.0 152.0,88.5 154.4,88.3 157.3,87.5 159.8,87.3 161.2,89.1 162.1,90.3 164.0,92.1 164.1,94.6 166.8,96.0 169.3,95.4 172.1,96.2 174.1,95.3 176.5,99.0 180.4,100.0 181.2,98.3 183.4,96.3 183.9,94.3 185.7,93.4 186.4,91.0 187.2,89.5 188.4,87.3 190.1,86.4 191.4,83.6 193.5,83.0 196.0,81.7 198.0,81.4 200.9,80.3 202.9,80.6 205.6,81.6 207.5,82.9 209.7,84.1 212.4,85.3 215.5,88.0 217.9,86.3 219.9,87.2 222.5,86.4"/>
<path fill="none" stroke="#A5A5A5" stroke-width="2.6" d="M222.7,33.5 222.7,85"/><path fill="none" stroke="#2a2a2a" stroke-width="1.4" d="M223,31.5 223,86.4"/>
<path fill="#000" stroke="#000" stroke-width="1.4" stroke-linejoin="round" d="M222.8,86.4 227.2,85.6 231.6,89.3 237.4,88.6 241.8,93.7 246.2,102.5 252.1,108.3 254.3,114.2 251.4,118.6 246.2,119.3 241.8,116.4 238.9,109.8 234.5,102.5 230.1,95.2 225.7,90.8 221.3,88.6 215.5,87.8 212.5,86.4ZM178.1,95.9 175.9,99.5 171.5,105.4 165.7,111.3 158.3,117.1 151.0,123.0 143.7,128.1 136.4,131.8 127.6,133.2 117.3,135.0 116.6,136.9 118.8,137.9 129.0,135.0 137.8,133.5 146.6,129.1 153.9,124.7 161.3,119.8 168.6,116.8 173.0,111.6 177.4,105.7 181.8,101.3 186.2,95.2 183.2,91.5ZM188.4,91.5 192.0,95.9 192.8,100.3 189.8,104.7 184.7,109.1 181.5,113.5 179.7,112.4 182.8,105.7 185.0,99.8 185.4,95.2ZM213.3,88.6 209.9,83.9 205.2,80.9 201.1,82.0 197.9,78.5 192.5,80.2 188.5,84.6 185.0,90.5 182.1,96.6 186.5,99.3 190.6,94.9 192.9,91.3 196.4,90.5 200.8,90.9 204.6,89.0 208.1,89.0 211.7,90.5Z"/>
<ellipse cx="196.4" cy="86.4" rx="2" ry="1.3" fill="#A5A5A5"/>
<g fill="#000"><ellipse cx="139.6" cy="68" rx="5.5" ry="2.6" transform="rotate(20 139.6 68)"/><ellipse cx="133.4" cy="85.3" rx="2.3" ry="1.9"/><ellipse cx="141.9" cy="105.4" rx="2" ry="3" transform="rotate(-20 141.9 105.4)"/><ellipse cx="152" cy="87.5" rx="4.5" ry="2.2"/></g>
<path fill="#203864" stroke="#1a2f57" stroke-width="1" stroke-linejoin="round" d="M87.1,426.7 89.3,422.4 94.3,418.0 96.8,418.6 93.0,423.6 88.7,427.6ZM108.0,415.5 112.0,409.3 119.8,407.1 127.6,407.7 130.7,412.4 128.5,419.6 124.4,423.6 116.7,422.7 112.0,419.6ZM176.7,439.2 182.0,436.7 186.7,432.9 191.3,433.6 192.9,439.8 199.1,444.4 203.8,449.1 202.2,452.2 196.0,452.2 191.3,447.6 186.7,450.7 182.0,449.1 179.5,443.5ZM220.9,457.8 224.0,455.3 234.9,456.9 245.8,458.5 244.2,461.6 234.9,460.9 225.6,460.9ZM231.8,470.3 236.5,469.3 241.1,472.5 239.6,477.1 234.9,477.1ZM248.0,467.2 252.0,464.7 256.1,467.8 258.2,470.9 266.0,469.3 273.8,474.0 278.5,478.7 273.8,483.3 266.0,484.9 259.8,483.3 256.7,477.1 252.0,474.6 248.3,471.5ZM284.7,502.0 290.9,502.6 300.2,509.8 311.1,516.0 318.9,519.1 323.6,528.5 331.4,536.2 325.1,542.5 315.8,547.1 306.5,553.3 298.7,559.6 294.0,563.6 287.8,559.6 283.1,553.3 283.1,544.0 281.6,536.2 276.0,526.9 279.1,522.2 284.7,517.6 286.2,509.8Z"/>
<text class="lg" x="651.9" y="23.6" textLength="228.4" lengthAdjust="spacingAndGlyphs" style="font-size:21.8px">State Lodging Tax Rate</text>
<rect x="605.8" y="45.8" width="9.4" height="9.4" fill="#A5A5A5"/><text class="lg" x="629.6" y="58.3">0%</text>
<rect x="605.8" y="72.0" width="9.4" height="9.4" fill="#DAE3F3"/><text class="lg" x="629.6" y="84.5">0.1% - 3.9%</text>
<rect x="605.8" y="98.1" width="9.4" height="9.4" fill="#B4C7E7"/><text class="lg" x="629.6" y="110.6">4.0% - 5.4%</text>
<rect x="605.8" y="124.5" width="9.4" height="9.4" fill="#8FAADC"/><text class="lg" x="629.6" y="137">5.5% - 6.0%</text>
<rect x="776.3" y="45.8" width="9.4" height="9.4" fill="#2F5597"/><text class="lg" x="799.8" y="58.3">6.1% - 6.9%</text>
<rect x="776.3" y="72.0" width="9.4" height="9.4" fill="#4472C4"/><text class="lg" x="799.8" y="84.5">7.0% - 8.9%</text>
<rect x="776.3" y="98.1" width="9.4" height="9.4" fill="#203864"/><text class="lg" x="799.8" y="110.6">9.0% or more</text>
</svg></body></html>
